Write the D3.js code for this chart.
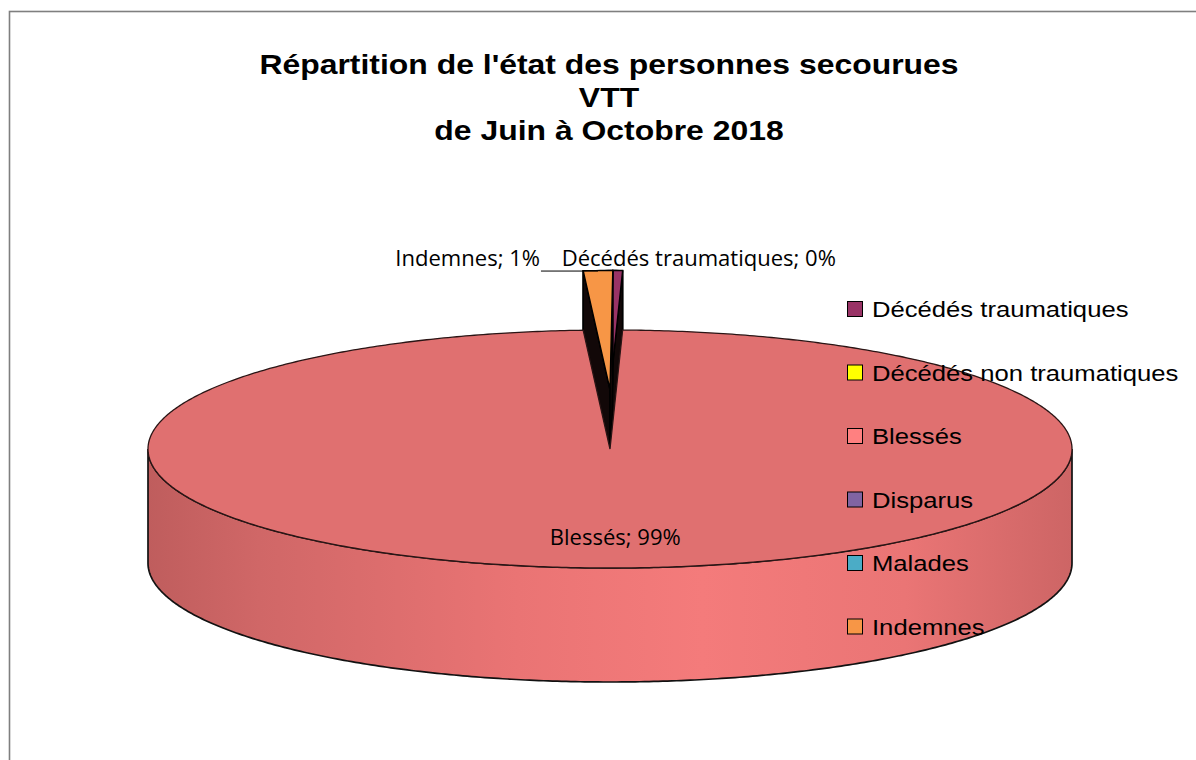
<!DOCTYPE html>
<html>
<head>
<meta charset="utf-8">
<script src="https://cdn.jsdelivr.net/npm/d3@7"></script>
<style>
  html, body { margin: 0; padding: 0; background: #fff; }
  svg { display: block; }
</style>
</head>
<body>
<script>
// ---- Data ----
const titleLines = ["Répartition de l'état des personnes secourues", "VTT", "de Juin à Octobre 2018"];
const categories = ["Décédés traumatiques", "Décédés non traumatiques", "Blessés", "Disparus", "Malades", "Indemnes"];
const values = [1, 0, 290, 0, 0, 3];
const colors = ["#993366", "#FFFF00", "#FF8080", "#8064A2", "#4BACC6", "#F79646"];
const explodedCats = ["Décédés traumatiques", "Indemnes"];

const W = 1196, H = 760;
const svg = d3.select("body").append("svg").attr("width", W).attr("height", H);

// Border
svg.append("rect").attr("x", 9.5).attr("y", 11.5).attr("width", 1300).attr("height", 900)
  .attr("fill", "#fff").attr("stroke", "#7f7f7f").attr("stroke-width", 1.6);

// Title
const title = svg.append("g").attr("transform", "translate(609,0) scale(1.12,1)");
title.selectAll("text").data(titleLines).join("text")
  .attr("x", 0).attr("y", (d, i) => 74 + i * 33)
  .attr("text-anchor", "middle")
  .attr("font-family", "'Liberation Sans', Arial, sans-serif")
  .attr("font-weight", "bold").attr("font-size", 28.5).attr("fill", "#000")
  .text(d => d);

// ---- 3D pie geometry ----
const cx = 610, cy = 449, rx = 462, ry = 119, depth = 114;
const explode = 0.5;
const rot = 0.006; // small rotation of the first slice
const pie = d3.pie().sort(null).value(d => d.value).startAngle(rot).endAngle(2 * Math.PI + rot);
const data = categories.map((c, i) => ({ cat: c, value: values[i], color: colors[i] }));
const arcs = pie(data);
const total = d3.sum(values);
const pct = d3.format(".0%");

function P(t, r, z, off) {
  return [cx + off[0] + r * rx * Math.sin(t), cy + off[1] - r * ry * Math.cos(t) + z];
}
function arcPts(t0, t1, z, off) {
  const n = Math.max(2, Math.ceil(Math.abs(t1 - t0) / 0.01));
  return d3.range(n + 1).map(i => P(t0 + (t1 - t0) * i / n, 1, z, off));
}
const line = d3.line();

const defs = svg.append("defs");
const grad = defs.append("linearGradient").attr("id", "sideGrad")
  .attr("gradientUnits", "userSpaceOnUse")
  .attr("x1", cx - rx).attr("x2", cx + rx).attr("y1", 0).attr("y2", 0);
[[0, "#bf5d5d"], [0.12, "#d06767"], [0.4, "#ea7474"], [0.6, "#f47b7b"], [0.82, "#ea7575"], [1, "#cd6565"]]
  .forEach(s => grad.append("stop").attr("offset", s[0]).attr("stop-color", s[1]));

const pieG = svg.append("g");

function offsetOf(a) {
  if (!explodedCats.includes(a.data.cat)) return [0, 0];
  const m = (a.startAngle + a.endAngle) / 2;
  return [0, -explode * ry * Math.cos(m)];
}

// exploded small slices first (they are at the back)
arcs.filter(a => a.value > 0 && explodedCats.includes(a.data.cat)).forEach(a => {
  const off = offsetOf(a);
  const c = d3.color(a.data.color);
  const top = arcPts(a.startAngle, a.endAngle, 0, off);
  const bot = arcPts(a.endAngle, a.startAngle, depth, off);
  // outer wall
  pieG.append("path").attr("d", line(top.concat(bot)) + "Z")
    .attr("fill", c.darker(0.2)).attr("stroke", "#000").attr("stroke-width", 1.3);
  // radial walls
  [a.startAngle, a.endAngle].forEach(t => {
    const ct = P(t, 0, 0, off), et = P(t, 1, 0, off), eb = P(t, 1, depth, off), cb = P(t, 0, depth, off);
    pieG.append("path").attr("d", line([ct, et, eb, cb]) + "Z")
      .attr("fill", "#120808").attr("stroke", "#000").attr("stroke-width", 1.6);
  });
  // top face
  pieG.append("path").attr("d", line([P(0, 0, 0, off)].concat(top)) + "Z")
    .attr("fill", c).attr("stroke", "#000").attr("stroke-width", 1.4);
});

// big slice(s) not exploded
arcs.filter(a => a.value > 0 && !explodedCats.includes(a.data.cat)).forEach(a => {
  const off = [0, 0];
  const s0 = Math.max(a.startAngle, Math.PI / 2), s1 = Math.min(a.endAngle, 3 * Math.PI / 2);
  if (s1 > s0) {
    const top = arcPts(s0, s1, 0, off);
    const bot = arcPts(s1, s0, depth, off);
    pieG.append("path").attr("d", line(top.concat(bot)) + "Z")
      .attr("fill", "url(#sideGrad)").attr("stroke", "#111").attr("stroke-width", 1.7);
  }
  const topPts = [P(0, 0, 0, off)].concat(arcPts(a.startAngle, a.endAngle, 0, off));
  pieG.append("path").attr("d", line(topPts) + "Z")
    .attr("fill", "#e07070").attr("stroke", "#2a1515").attr("stroke-width", 1.3);
});

// ---- Data labels ----
const lblFont = "'Open Sans', 'Noto Sans', sans-serif";
arcs.filter(a => a.value > 0).forEach(a => {
  const m = (a.startAngle + a.endAngle) / 2;
  const txt = a.data.cat + "; " + pct(a.value / total);
  if (!explodedCats.includes(a.data.cat)) {
    const p = P(m, 0.74, 0, [0, 0]);
    svg.append("text").attr("transform", `translate(${p[0]},${p[1] + 8}) scale(1.05,1)`)
      .attr("text-anchor", "middle").attr("font-family", lblFont).attr("font-size", 21)
      .attr("fill", "#000").text(txt);
  } else {
    const off = offsetOf(a);
    const p = P(m, 1, 0, off);
    const right = Math.sin(m) > 0;
    const tx = right ? p[0] - 56 : p[0] - 58;
    svg.append("text").attr("transform", `translate(${tx},${p[1] - 5}) scale(1.05,1)`)
      .attr("text-anchor", right ? "start" : "end").attr("font-family", lblFont).attr("font-size", 21)
      .attr("fill", "#000").text(txt);
    if (!right) {
      svg.append("line").attr("x1", tx + 1).attr("x2", p[0]).attr("y1", p[1] + 0.5).attr("y2", p[1] + 0.5)
        .attr("stroke", "#000").attr("stroke-width", 1);
    }
  }
});

// ---- Legend ----
const leg = svg.append("g");
const legRows = leg.selectAll("g").data(data).join("g")
  .attr("transform", (d, i) => `translate(847,${309 + i * 63.5})`);
legRows.append("rect").attr("x", 0.5).attr("y", -7.5).attr("width", 15).attr("height", 15)
  .attr("fill", d => d.color).attr("stroke", "#000").attr("stroke-width", 1);
legRows.append("text").attr("transform", "translate(25,8) scale(1.14,1)")
  .attr("font-family", "'Liberation Sans', Arial, sans-serif").attr("font-size", 22.5)
  .attr("fill", "#000").text(d => d.cat);
</script>
</body>
</html>
